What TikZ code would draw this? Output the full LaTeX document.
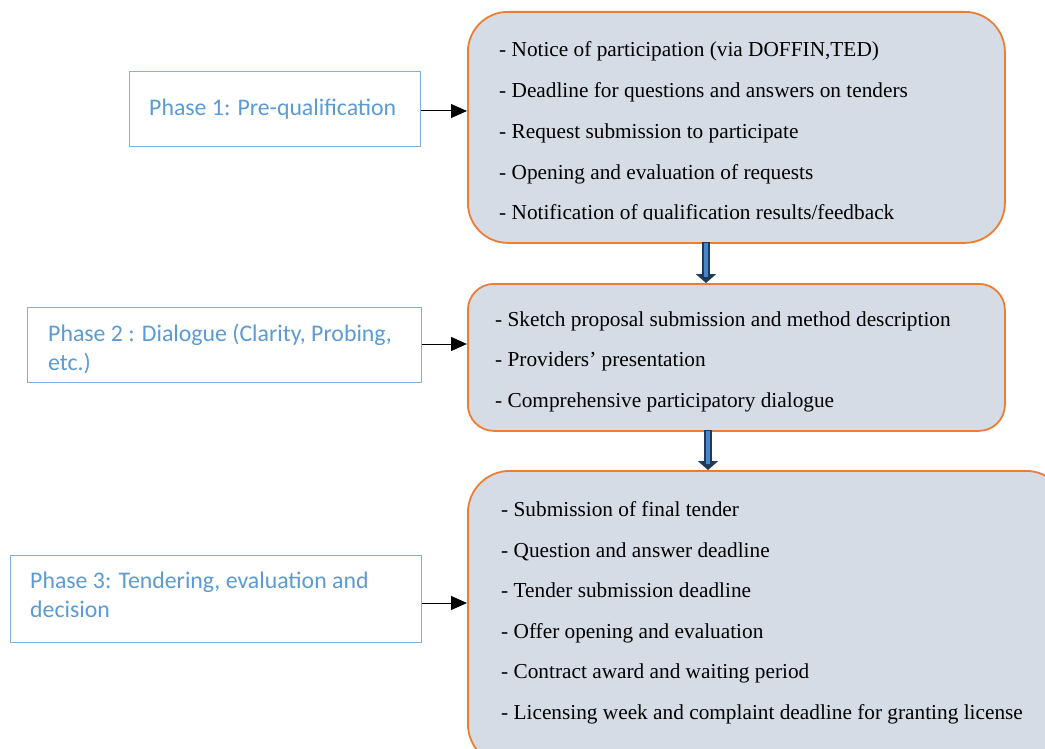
\documentclass[tikz,border=0pt]{standalone}
\usepackage{fontspec}
\setmainfont{Liberation Serif}
\newfontfamily\calib{Carlito}
\usetikzlibrary{arrows.meta}
\definecolor{boxorange}{HTML}{ED7D31}
\definecolor{boxfill}{HTML}{D6DCE5}
\definecolor{phaseblue}{HTML}{5B9BD5}
\definecolor{phaseline}{HTML}{7FB1E0}
\definecolor{arrdark}{HTML}{1F3A5F}
\definecolor{arrlight}{HTML}{4A86C5}
\tikzset{
  stagebox/.style={draw=boxorange, line width=1.8pt, fill=boxfill},
  phasebox/.style={draw=phaseline, line width=0.9pt, fill=white},
  phasetext/.style={anchor=base west, inner sep=0pt, text=phaseblue, font=\calib\fontsize{23.8}{28}\selectfont},
  itemtext/.style={anchor=base west, inner sep=0pt, font=\fontsize{21.3}{26}\selectfont},
  link/.style={-{Triangle[length=16pt,width=14pt]}, line width=1pt, black},
  flowdark/.style={line width=8pt, arrdark, -{Triangle[length=9pt,width=20pt]}},
  flowlight/.style={line width=3.5pt, arrlight},
}
\begin{document}
\begin{tikzpicture}[x=1pt,y=-1pt]
\useasboundingbox (0,0) rectangle (1045,749);
% right boxes
\node[stagebox, rounded corners=40pt, minimum width=537pt, minimum height=231pt, anchor=north west] (s1) at (467,11) {};
\node[stagebox, rounded corners=26pt, minimum width=537pt, minimum height=147pt, anchor=north west] (s2) at (467,283) {};
\node[stagebox, rounded corners=42pt, minimum width=600pt, minimum height=295pt, anchor=north west] (s3) at (467,470) {};
% items box 1
\node[itemtext] (a1) at (499,57) {- Notice of participation (via DOFFIN,TED)};
\node[itemtext] (a2) at (499,98) {- Deadline for questions and answers on tenders};
\node[itemtext] (a3) at (499,139) {- Request submission to participate};
\node[itemtext] (a4) at (499,179) {- Opening and evaluation of requests};
\begin{scope}
\clip (467,190) rectangle (1004,220);
\node[itemtext] (a5) at (499,219) {- Notification of qualification results/feedback};
\end{scope}
% items box 2
\node[itemtext] (b1) at (495,326) {- Sketch proposal submission and method description};
\node[itemtext] (b2) at (495,366) {- Providers' presentation};
\node[itemtext] (b3) at (495,407) {- Comprehensive participatory dialogue};
% items box 3
\node[itemtext] (c1) at (501,516) {- Submission of final tender};
\node[itemtext] (c2) at (501,557) {- Question and answer deadline};
\node[itemtext] (c3) at (501,597) {- Tender submission deadline};
\node[itemtext] (c4) at (501,638) {- Offer opening and evaluation};
\node[itemtext] (c5) at (501,678) {- Contract award and waiting period};
\node[itemtext] (c6) at (501,719) {- Licensing week and complaint deadline for granting license};
% phase boxes
\node[phasebox, minimum width=291pt, minimum height=75pt, anchor=north west] (p1) at (129,71) {};
\node[phasebox, minimum width=394pt, minimum height=75pt, anchor=north west] (p2) at (27,307) {};
\node[phasebox, minimum width=411pt, minimum height=87pt, anchor=north west] (p3) at (10,555) {};
\node[phasetext] (t1) at (149,116) {Phase 1: Pre-qualification};
\node[phasetext] (t2a) at (48,341) {Phase 2 : Dialogue (Clarity, Probing,};
\node[phasetext] (t2b) at (48,370) {etc.)};
\node[phasetext] (t3a) at (30,588) {Phase 3: Tendering, evaluation and};
\node[phasetext] (t3b) at (30,617) {decision};
% horizontal links
\draw[link] (p1.east |- 0,111) -- (s1.west |- 0,111);
\draw[link] (p2.east |- 0,344) -- (s2.west |- 0,344);
\draw[link] (p3.east |- 0,603) -- (s3.west |- 0,603);
% vertical flow arrows
\coordinate (f1a) at (706,242); \coordinate (f1b) at (706,283);
\coordinate (f2a) at (708,430); \coordinate (f2b) at (708,470);
\draw[flowdark] (f1a) -- (f1b);
\draw[flowlight] (706,243) -- (706,277);
\draw[flowdark] (f2a) -- (f2b);
\draw[flowlight] (708,431) -- (708,464);
\end{tikzpicture}
\end{document}
